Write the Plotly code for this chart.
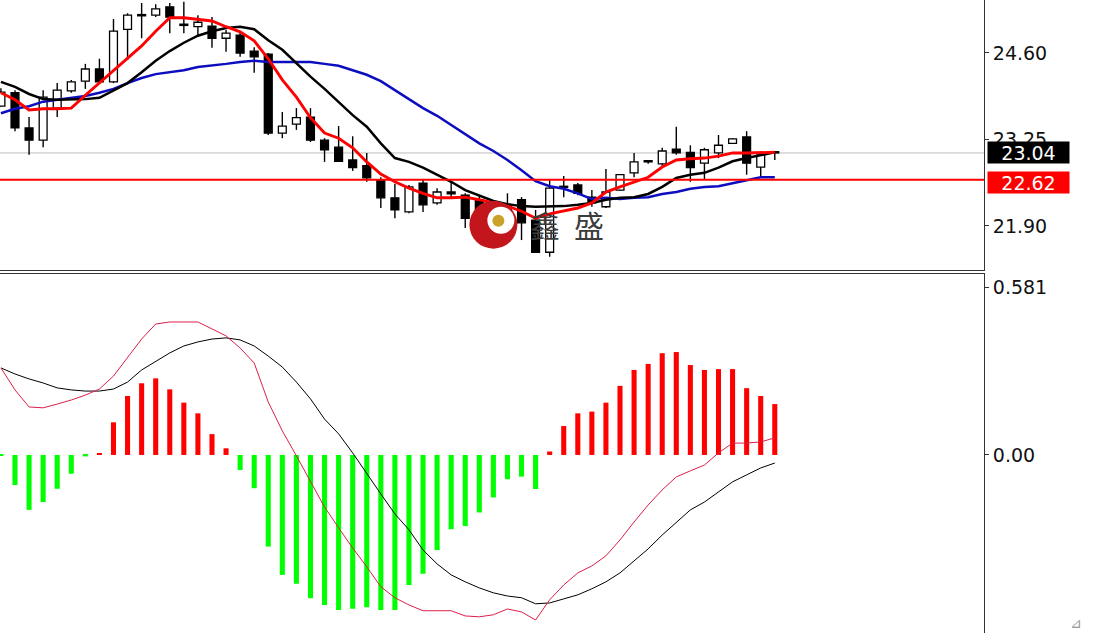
import plotly.graph_objects as go

# ---------------- data ----------------
opens = [23.77, 23.98, 23.43, 23.24, 23.74, 24.01, 24.16, 24.35, 24.15, 24.97,
         25.18, 25.19, 25.32, 25.04, 25.01, 25.02, 24.83, 24.88, 24.63, 24.58,
         23.35, 23.49, 23.60, 23.24, 23.13, 22.93, 22.84, 22.62, 22.34, 22.12,
         22.57, 22.26, 22.43, 22.38, 22.31, 22.17, 22.15, 22.31, 21.99, 21.49,
         22.50, 22.54, 22.35, 22.20, 22.46, 22.73, 22.90, 22.87, 23.10, 23.05,
         22.88, 23.04, 23.19, 23.29, 22.82, 23.05]
highs = [24.05, 24.02, 23.60, 24.02, 24.13, 24.18, 24.43, 24.51, 25.13, 25.22,
         25.38, 25.36, 25.38, 25.40, 25.19, 25.16, 24.96, 24.93, 24.69, 24.60,
         23.68, 23.74, 23.74, 23.27, 23.46, 23.30, 23.04, 22.66, 22.56, 22.54,
         22.62, 22.49, 22.60, 22.41, 22.38, 22.24, 22.41, 22.35, 22.15, 22.62,
         22.68, 22.57, 22.46, 22.79, 22.71, 23.04, 22.93, 23.12, 23.45, 23.16,
         23.12, 23.32, 23.27, 23.38, 23.04, 23.07]
lows = [23.76, 23.38, 23.01, 23.13, 23.60, 23.98, 24.04, 24.13, 24.13, 24.49,
        24.83, 25.16, 24.91, 24.91, 24.88, 24.68, 24.62, 24.54, 24.29, 23.32,
        23.27, 23.40, 23.21, 22.90, 22.90, 22.76, 22.59, 22.18, 22.02, 22.10,
        22.12, 22.23, 22.35, 21.87, 22.07, 22.10, 21.92, 21.68, 21.48, 21.42,
        22.35, 22.38, 22.20, 22.18, 22.45, 22.66, 22.87, 22.84, 23.01, 22.59,
        22.62, 22.96, 23.18, 22.70, 22.65, 22.93]
closes = [23.99, 23.43, 23.24, 23.91, 24.02, 24.15, 24.35, 24.15, 24.94, 25.19,
          25.19, 25.29, 25.16, 25.03, 25.08, 24.83, 24.91, 24.60, 24.54, 23.35,
          23.46, 23.59, 23.24, 23.09, 22.91, 22.81, 22.65, 22.34, 22.15, 22.51,
          22.23, 22.43, 22.40, 22.02, 22.12, 22.18, 22.23, 21.95, 21.49, 22.49,
          22.51, 22.41, 22.26, 22.43, 22.70, 22.90, 22.91, 23.07, 23.04, 22.81,
          23.09, 23.16, 23.26, 22.88, 23.01, 23.04]

ma_fast = [23.98, 23.87, 23.71, 23.73, 23.73, 23.74, 23.94, 24.13, 24.33, 24.52,
           24.71, 24.94, 25.15, 25.15, 25.13, 25.10, 25.01, 24.93, 24.79, 24.51,
           24.18, 23.91, 23.59, 23.35, 23.27, 23.12, 22.90, 22.71, 22.59, 22.49,
           22.41, 22.34, 22.34, 22.35, 22.31, 22.26, 22.21, 22.13, 22.02, 22.09,
           22.13, 22.18, 22.26, 22.43, 22.51, 22.59, 22.66, 22.82, 22.93, 22.95,
           22.96, 22.99, 23.04, 23.04, 23.05, 23.05]
ma_mid = [24.15, 24.07, 23.96, 23.88, 23.87, 23.87, 23.88, 23.90, 24.02, 24.13,
          24.30, 24.48, 24.63, 24.76, 24.87, 24.94, 24.99, 25.01, 24.97, 24.80,
          24.65, 24.44, 24.23, 24.04, 23.84, 23.63, 23.45, 23.19, 22.96, 22.90,
          22.81, 22.70, 22.59, 22.46, 22.37, 22.29, 22.24, 22.21, 22.20, 22.20,
          22.21, 22.23, 22.26, 22.31, 22.34, 22.35, 22.40, 22.51, 22.65, 22.70,
          22.73, 22.81, 22.91, 22.96, 23.01, 23.05]
ma_slow = [23.66, 23.73, 23.77, 23.84, 23.87, 23.90, 23.93, 23.98, 24.04, 24.13,
           24.21, 24.27, 24.30, 24.33, 24.38, 24.40, 24.43, 24.46, 24.48, 24.46,
           24.46, 24.46, 24.46, 24.43, 24.40, 24.33, 24.26, 24.16, 24.02, 23.87,
           23.74, 23.62, 23.48, 23.34, 23.19, 23.07, 22.93, 22.77, 22.60, 22.52,
           22.48, 22.41, 22.32, 22.34, 22.32, 22.34, 22.35, 22.40, 22.43, 22.48,
           22.51, 22.52, 22.57, 22.62, 22.66, 22.66]

macd_hist = [-0.003, -0.104, -0.190, -0.163, -0.117, -0.065, -0.005, 0.004, 0.113, 0.204,
             0.248, 0.265, 0.227, 0.181, 0.144, 0.072, 0.023, -0.052, -0.115, -0.317,
             -0.415, -0.446, -0.496, -0.519, -0.536, -0.532, -0.527, -0.536, -0.536, -0.450,
             -0.411, -0.329, -0.257, -0.246, -0.199, -0.147, -0.084, -0.075, -0.118, 0.012,
             0.100, 0.144, 0.150, 0.181, 0.239, 0.294, 0.315, 0.352, 0.356, 0.311,
             0.294, 0.297, 0.297, 0.231, 0.204, 0.176]
macd_line = [0.301, 0.225, 0.166, 0.163, 0.176, 0.190, 0.207, 0.228, 0.273, 0.335,
             0.401, 0.453, 0.460, 0.460, 0.460, 0.436, 0.412, 0.370, 0.318, 0.183,
             0.083, -0.003, -0.093, -0.180, -0.252, -0.322, -0.387, -0.456, -0.494, -0.519,
             -0.539, -0.539, -0.539, -0.557, -0.560, -0.553, -0.533, -0.543, -0.571, -0.501,
             -0.450, -0.408, -0.384, -0.349, -0.294, -0.232, -0.173, -0.121, -0.076, -0.055,
             -0.035, 0.007, 0.041, 0.041, 0.045, 0.059]
signal_line = [0.301, 0.280, 0.263, 0.249, 0.232, 0.225, 0.221, 0.221, 0.228, 0.252,
               0.294, 0.325, 0.353, 0.377, 0.391, 0.401, 0.405, 0.398, 0.377, 0.342,
               0.304, 0.252, 0.194, 0.124, 0.073, 0.007, -0.066, -0.135, -0.204, -0.259,
               -0.329, -0.377, -0.415, -0.439, -0.460, -0.477, -0.488, -0.494, -0.515, -0.512,
               -0.498, -0.484, -0.463, -0.439, -0.408, -0.367, -0.325, -0.277, -0.232, -0.190,
               -0.163, -0.128, -0.093, -0.069, -0.045, -0.028]

last_price = 23.04
level_price = 22.62
price_ticks = [21.90, 23.25, 24.60]
macd_ticks = [0.0, 0.581]
macd_tick_text = ["0.00", "0.581"]
watermark_chars = ["鑫", "盛"]

# ---------------- figure ----------------
idx = list(range(len(opens)))
AXIS_FONT = dict(family="DejaVu Sans", size=19, color="#111111")

fig = go.Figure()

# candle bodies
body_base, body_h, body_col = [], [], []
for o, c in zip(opens, closes):
    body_base.append(min(o, c))
    body_h.append(max(abs(c - o), 0.02))
    body_col.append("#ffffff" if c >= o else "#000000")
fig.add_trace(go.Bar(x=idx, y=body_h, base=body_base, width=0.56,
                     marker=dict(color=body_col, line=dict(color="#000000", width=1.3)),
                     xaxis="x", yaxis="y", hoverinfo="skip"))

# wicks (upper and lower segments so they don't cross the white bodies)
wx, wy = [], []
for i, o, h, l, c in zip(idx, opens, highs, lows, closes):
    top, bot = max(o, c), min(o, c)
    wx += [i, i, None, i, i, None]
    wy += [h, top, None, bot, l, None]
fig.add_trace(go.Scatter(x=wx, y=wy, mode="lines", line=dict(color="#000000", width=1.4),
                         xaxis="x", yaxis="y", hoverinfo="skip"))

# moving averages
fig.add_trace(go.Scatter(x=idx, y=ma_slow, mode="lines", line=dict(color="#0d0dc0", width=2.5),
                         xaxis="x", yaxis="y"))
fig.add_trace(go.Scatter(x=idx, y=ma_mid, mode="lines", line=dict(color="#000000", width=2.5),
                         xaxis="x", yaxis="y"))
fig.add_trace(go.Scatter(x=idx, y=ma_fast, mode="lines", line=dict(color="#ff0000", width=2.9),
                         xaxis="x", yaxis="y"))

# MACD histogram
hist_col = ["#ff0000" if v > 0 else "#00ff00" for v in macd_hist]
fig.add_trace(go.Bar(x=idx, y=macd_hist, width=0.36, marker=dict(color=hist_col, line=dict(width=0)),
                     xaxis="x2", yaxis="y2"))
fig.add_trace(go.Scatter(x=idx, y=signal_line, mode="lines", line=dict(color="#000000", width=1),
                         xaxis="x2", yaxis="y2"))
fig.add_trace(go.Scatter(x=idx, y=macd_line, mode="lines", line=dict(color="#dc1f4a", width=1),
                         xaxis="x2", yaxis="y2"))

xrange = [-0.066, 69.87]
top_dom = [1 - 270 / 633, 1]
bot_dom = [0, 1 - 274 / 633]

fig.update_layout(
    width=1093, height=633,
    margin=dict(l=0, r=109, t=0, b=0),
    paper_bgcolor="#ffffff", plot_bgcolor="#ffffff",
    showlegend=False, barmode="overlay",
    xaxis=dict(domain=[0, 1], range=xrange, anchor="y", showticklabels=False, showgrid=False,
               zeroline=False, showline=True, linecolor="#333333", linewidth=1, ticks="", side="bottom"),
    xaxis2=dict(domain=[0, 1], range=xrange, anchor="y2", matches="x", showticklabels=False,
                showgrid=False, zeroline=False, showline=True, linecolor="#333333", linewidth=1,
                ticks="", side="top"),
    yaxis=dict(domain=top_dom, range=[21.213, 25.427], side="right", anchor="x",
               tickvals=price_ticks, ticktext=[f"{v:.2f}" for v in price_ticks],
               ticks="outside", ticklen=4, tickcolor="#333333", showline=True, linecolor="#333333",
               linewidth=1, showgrid=False, zeroline=False, tickfont=AXIS_FONT),
    yaxis2=dict(domain=bot_dom, range=[-0.616, 0.626], side="right", anchor="x2",
                tickvals=macd_ticks, ticktext=macd_tick_text,
                ticks="outside", ticklen=4, tickcolor="#333333", showline=True, linecolor="#333333",
                linewidth=1, showgrid=False, zeroline=False, tickfont=AXIS_FONT),
)

# horizontal price lines
fig.add_shape(type="line", xref="x domain", yref="y", x0=0, x1=1, y0=last_price, y1=last_price,
              line=dict(color="#bdbdbd", width=1), layer="below")
fig.add_shape(type="line", xref="x domain", yref="y", x0=0, x1=1, y0=level_price, y1=level_price,
              line=dict(color="#ff0000", width=2), layer="above")

# price boxes
fig.add_annotation(xref="paper", yref="y", x=1.003, y=last_price, xanchor="left", yanchor="middle",
                   text=f"{last_price:.2f}", showarrow=False, bgcolor="#000000", width=81, height=21,
                   borderpad=0, font=dict(family="DejaVu Sans", size=19, color="#ffffff"))
fig.add_annotation(xref="paper", yref="y", x=1.003, y=level_price, yshift=-3, xanchor="left",
                   yanchor="middle", text=f"{level_price:.2f}", showarrow=False, bgcolor="#ff0000",
                   width=81, height=21, borderpad=0,
                   font=dict(family="DejaVu Sans", size=19, color="#ffffff"))

# watermark logo
logo_x, logo_y = 35, 21.92
for (x0, x1, y0, y1, col) in [(-24, 24, -24, 24, "#c3161c"),
                              (-6, 21, -9, 18, "#ffffff"),
                              (-1, 11, -2, 10, "#c9a227")]:
    fig.add_shape(type="circle", xref="x", yref="y", xsizemode="pixel", ysizemode="pixel",
                  xanchor=logo_x, yanchor=logo_y, x0=x0, x1=x1, y0=y0, y1=y1,
                  fillcolor=col, line=dict(width=0), layer="above")
for ch, cx in zip(watermark_chars, [38.7, 41.8]):
    fig.add_annotation(xref="x", yref="y", x=cx, y=21.93, text=ch, showarrow=False,
                       font=dict(family="Noto Sans CJK SC", size=30, color="#3c3c3c"))

fig.add_annotation(xref="paper", yref="paper", x=1.085, y=0.0, xanchor="left", yanchor="bottom",
                   text="⊿", showarrow=False, font=dict(family="DejaVu Sans", size=14, color="#999999"))

fig.write_html("out.html", config={"displayModeBar": False},
               post_script="document.body.style.margin='0px';")
